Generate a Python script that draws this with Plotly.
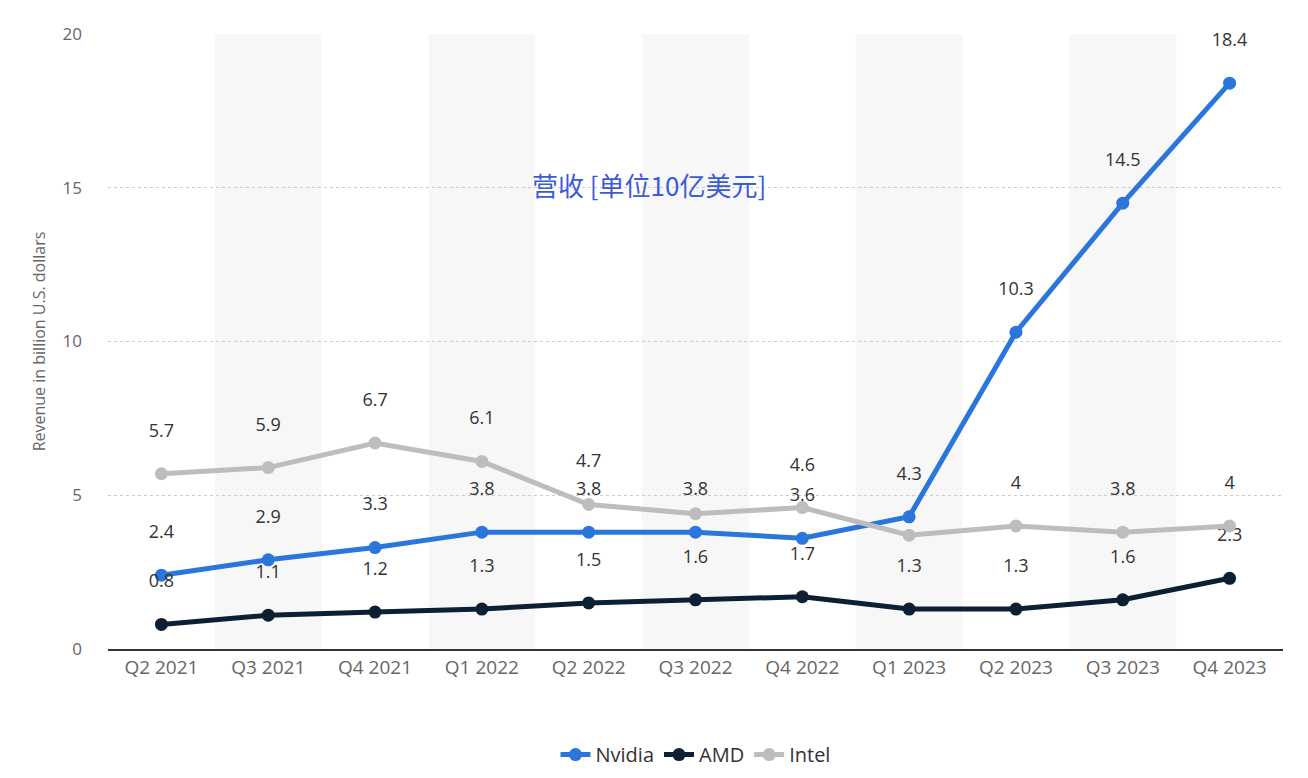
import plotly.graph_objects as go

quarters = ["Q2 2021", "Q3 2021", "Q4 2021", "Q1 2022", "Q2 2022", "Q3 2022",
            "Q4 2022", "Q1 2023", "Q2 2023", "Q3 2023", "Q4 2023"]
nvidia = [2.4, 2.9, 3.3, 3.8, 3.8, 3.8, 3.6, 4.3, 10.3, 14.5, 18.4]
amd = [0.8, 1.1, 1.2, 1.3, 1.5, 1.6, 1.7, 1.3, 1.3, 1.6, 2.3]
intel = [5.7, 5.9, 6.7, 6.1, 4.7, 4.4, 4.6, 3.7, 4.0, 3.8, 4.0]
intel_labels = ["5.7", "5.9", "6.7", "6.1", "4.7", "", "4.6", "", "4", "3.8", "4"]

fig = go.Figure()

for i in range(1, len(quarters), 2):
    fig.add_shape(type="rect", xref="x", yref="paper", x0=i - 0.5, x1=i + 0.5,
                  y0=0, y1=1, fillcolor="#f7f7f7", line_width=0, layer="below")

def add(name, y, color, text):
    fig.add_trace(go.Scatter(
        x=quarters, y=y, name=name, mode="lines+markers+text",
        line=dict(color=color, width=5), marker=dict(color=color, size=13),
        text=[t + "<br> " if t else "" for t in text], textposition="top center",
        textfont=dict(size=18, color="#333333", family="Open Sans"),
        cliponaxis=False,
    ))

add("Nvidia", nvidia, "#2a76dd", [f"{v:g}" for v in nvidia])
add("AMD", amd, "#0d1f33", [f"{v:g}" for v in amd])
add("Intel", intel, "#bdbdbd", intel_labels)

fig.add_annotation(text="营收 [单位10亿美元]", x=0.46, y=15.1, xref="paper", yref="y",
                   showarrow=False, font=dict(size=26, color="#3b5bdb",
                                              family="Noto Sans CJK SC"))

fig.update_layout(
    width=1308, height=778, paper_bgcolor="white", plot_bgcolor="white",
    margin=dict(l=100, r=33, t=26, b=130),
    font=dict(family="Open Sans", color="#666666"),
    xaxis=dict(showgrid=False, showline=True, linecolor="#333333", linewidth=1.5,
               tickfont=dict(size=19), ticks="", range=[-0.5, 10.5]),
    yaxis=dict(range=[0, 20], dtick=5, gridcolor="#cccccc", griddash="dot",
               zeroline=False, tickfont=dict(size=17),
               title=dict(text="Revenue in billion U.S. dollars", font=dict(size=16),
                          standoff=12),
               ticklabelstandoff=25),
    legend=dict(orientation="h", x=0.5, xanchor="center", y=-0.14, yanchor="top",
                font=dict(size=20, color="#333333")),
)

fig.write_html("out.html")
